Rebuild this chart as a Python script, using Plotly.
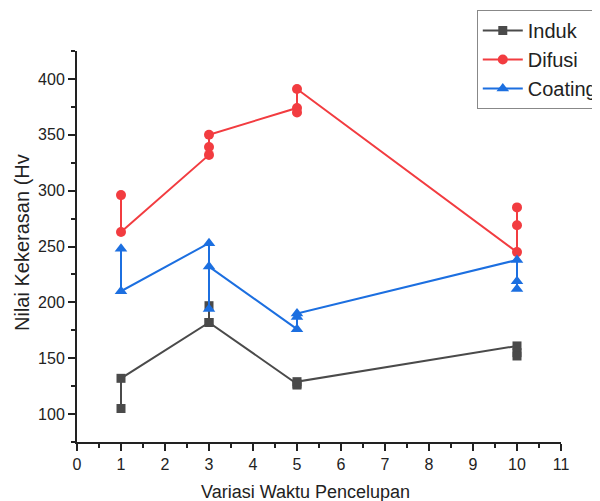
import plotly.graph_objects as go

# Data (x = immersion time, y = hardness Hv)
induk_x = [1, 1, 3, 3, 3, 5, 5, 5, 10, 10, 10]
induk_y = [105, 132, 182, 197, 182, 127, 126, 129, 161, 155, 152]

difusi_x = [1, 1, 3, 3, 3, 5, 5, 5, 10, 10, 10]
difusi_y = [296, 263, 332, 339, 350, 374, 370, 391, 245, 269, 285]

coating_x = [1, 1, 3, 3, 3, 5, 5, 5, 10, 10, 10]
coating_y = [248, 210, 253, 194, 232, 176, 187, 190, 238, 219, 212]

names = ["Induk", "Difusi", "Coating"]
colors = ["#4a4a4a", "#f23c40", "#1c6fe0"]
symbols = ["square", "circle", "triangle-up"]
msizes = [9, 10, 11]

x_ticks = list(range(0, 12))
y_ticks = [100, 150, 200, 250, 300, 350, 400]

FONT = "Liberation Sans, Arial, sans-serif"

fig = go.Figure()
for xs, ys, nm, c, s, ms in zip(
    [induk_x, difusi_x, coating_x],
    [induk_y, difusi_y, coating_y],
    names, colors, symbols, msizes,
):
    fig.add_trace(go.Scatter(
        x=xs, y=ys, name=nm, mode="lines+markers",
        line=dict(color=c, width=2),
        marker=dict(symbol=s, size=ms, color=c),
    ))

axis_common = dict(
    showline=True, linecolor="#222", linewidth=2,
    ticks="outside", ticklen=7, tickwidth=2, tickcolor="#222",
    showgrid=False, zeroline=False, mirror=False,
    tickfont=dict(size=16, color="#222", family=FONT),
)

fig.update_xaxes(
    range=[0, 11], tickmode="array", tickvals=x_ticks,
    minor=dict(dtick=0.5, ticks="outside", ticklen=4, tickwidth=2, tickcolor="#222"),
    **axis_common,
)
fig.update_yaxes(
    range=[75, 425], tickmode="array", tickvals=y_ticks,
    minor=dict(tick0=75, dtick=25, ticks="outside", ticklen=4, tickwidth=2, tickcolor="#222"),
    **axis_common,
)

fig.add_annotation(
    text="Nilai Kekerasan (Hv", textangle=-90,
    xref="paper", yref="paper", x=-0.1136, y=0.509,
    xanchor="center", yanchor="middle", showarrow=False,
    font=dict(size=20, color="#222", family=FONT),
)
fig.add_annotation(
    text="Variasi Waktu Pencelupan",
    xref="paper", yref="paper", x=0.473, y=-0.128,
    xanchor="center", yanchor="middle", showarrow=False,
    font=dict(size=18, color="#222", family=FONT),
)

fig.update_layout(
    width=592, height=493,
    margin=dict(l=69, r=39, t=43, b=59, autoexpand=False),
    plot_bgcolor="white", paper_bgcolor="white",
    font=dict(family=FONT, color="#222"),
    showlegend=True,
    legend=dict(
        x=0.826, y=1.105, xanchor="left", yanchor="top",
        bgcolor="white", bordercolor="#888", borderwidth=1,
        font=dict(size=20, family=FONT, color="#222"),
        tracegroupgap=0, itemwidth=40,
    ),
)

fig.write_html("out.html")
